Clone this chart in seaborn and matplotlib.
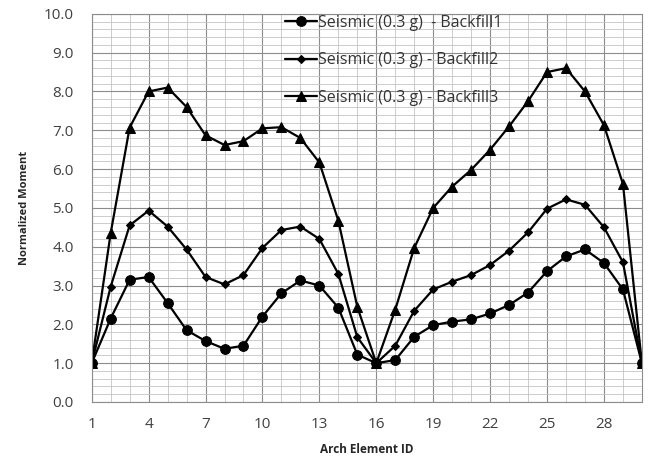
import seaborn as sns
import pandas as pd
import matplotlib.pyplot as plt
from matplotlib.ticker import MultipleLocator

element_id = list(range(1, 31))
backfill1 = [1.0, 2.15, 3.15, 3.22, 2.55, 1.85, 1.57, 1.37, 1.45, 2.2,
             2.8, 3.13, 3.0, 2.43, 1.22, 1.0, 1.08, 1.68, 1.98, 2.07,
             2.13, 2.28, 2.5, 2.82, 3.37, 3.75, 3.93, 3.58, 2.9, 1.0]
backfill2 = [1.0, 2.97, 4.55, 4.93, 4.52, 3.93, 3.22, 3.03, 3.27, 3.97,
             4.43, 4.52, 4.2, 3.3, 1.67, 1.0, 1.45, 2.35, 2.9, 3.1,
             3.27, 3.53, 3.9, 4.37, 4.98, 5.22, 5.08, 4.5, 3.6, 1.0]
backfill3 = [1.0, 4.35, 7.07, 8.0, 8.1, 7.6, 6.87, 6.62, 6.72, 7.05,
             7.08, 6.8, 6.17, 4.67, 2.45, 1.0, 2.38, 3.97, 5.0, 5.55,
             5.98, 6.5, 7.1, 7.75, 8.5, 8.6, 8.0, 7.13, 5.62, 1.0]
series_names = ["Seismic (0.3 g)  - Backfill1",
                "Seismic (0.3 g) - Backfill2",
                "Seismic (0.3 g) - Backfill3"]
x_ticks = list(range(1, 31, 3))

df = pd.DataFrame({"id": element_id, series_names[0]: backfill1,
                   series_names[1]: backfill2, series_names[2]: backfill3})
long = df.melt(id_vars="id", var_name="series", value_name="moment")

sns.set_style("white")
plt.rcParams['font.family'] = ['Open Sans', 'DejaVu Sans']

fig, ax = plt.subplots(figsize=(6.55, 4.61), dpi=100)
fig.subplots_adjust(left=0.14, right=0.98, top=0.97, bottom=0.128)

markers = {series_names[0]: "o", series_names[1]: "D", series_names[2]: "^"}
sizes = {series_names[0]: 7, series_names[1]: 4.5, series_names[2]: 7}
for name in series_names:
    sns.lineplot(data=long[long["series"] == name], x="id", y="moment",
                 color="black", linewidth=1.6, marker=markers[name],
                 markersize=sizes[name], markeredgecolor="black",
                 label=name, ax=ax)

ax.set_xlim(1, 30)
ax.set_ylim(0, 10)
ax.set_xticks(x_ticks)
ax.xaxis.set_minor_locator(MultipleLocator(1))
ax.yaxis.set_major_locator(MultipleLocator(1))
ax.yaxis.set_minor_locator(MultipleLocator(0.2))
ax.set_yticklabels([f"{v:.1f}" for v in ax.get_yticks()])
ax.grid(which="major", color="#8c8c8c", linewidth=0.8)
ax.grid(which="minor", color="#c4c4c4", linewidth=0.6)
ax.tick_params(which="minor", length=0)
ax.tick_params(which="major", length=5, width=0.8, color="#8c8c8c",
               labelsize=11, labelcolor="#404040")
ax.tick_params(axis="x", pad=6)
ax.tick_params(axis="y", pad=8)
for sp in ax.spines.values():
    sp.set_color("#8c8c8c")
    sp.set_linewidth(0.8)

ax.set_xlabel("Arch Element ID", fontweight="bold", fontsize=8.5, labelpad=8)
ax.set_ylabel("Normalized Moment", fontweight="bold", fontsize=8, labelpad=10)

ax.legend(loc="upper left", bbox_to_anchor=(0.325, 1.035), frameon=False,
          fontsize=11.5, handlelength=2.0, labelspacing=1.35,
          handletextpad=0.1, labelcolor="#333333")

plt.savefig("out.png")
